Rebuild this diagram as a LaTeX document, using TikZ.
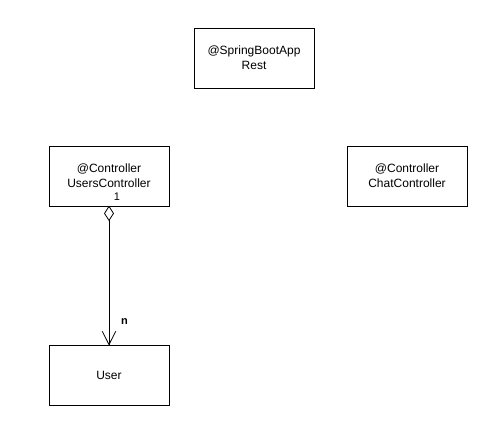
\documentclass[tikz,border=0pt]{standalone}
\usepackage{fontspec}
\setmainfont{Liberation Sans}
\begin{document}
\begin{tikzpicture}[x=1pt,y=-1pt,
  cls/.style={draw,line width=0.8pt,minimum width=120pt,minimum height=60pt,inner sep=0pt,align=center,font=\fontsize{12}{15}\selectfont},
  lbl/.style={font=\fontsize{11}{13}\selectfont,inner sep=0pt}]
\useasboundingbox (0,0) rectangle (502,441);
\node[cls] (rest) at (254,58) {@SpringBootApp\\Rest};
\node[cls] (users) at (109,176) {@Controller\\UsersController};
\node[cls] (chat) at (407,176) {@Controller\\ChatController};
\node[cls] (user) at (109,375) {User};
\coordinate (dtop) at (users.south);
\coordinate (dbot) at ([shift={(0,14)}]users.south);
\draw[line width=0.8pt,fill=white] (dtop) -- ++(4.5,7) -- (dbot) -- ++(-4.5,-7) -- cycle;
\draw[line width=0.8pt] (dbot) -- (user.north);
\draw[line width=0.8pt] ([shift={(-6.7,-13.3)}]user.north) -- (user.north) -- ([shift={(6.7,-13.3)}]user.north);
\node[lbl] (one) at (117,197) {1};
\node[lbl,font=\fontsize{11}{13}\selectfont\bfseries] (n) at (124.5,321.5) {n};
\end{tikzpicture}
\end{document}
